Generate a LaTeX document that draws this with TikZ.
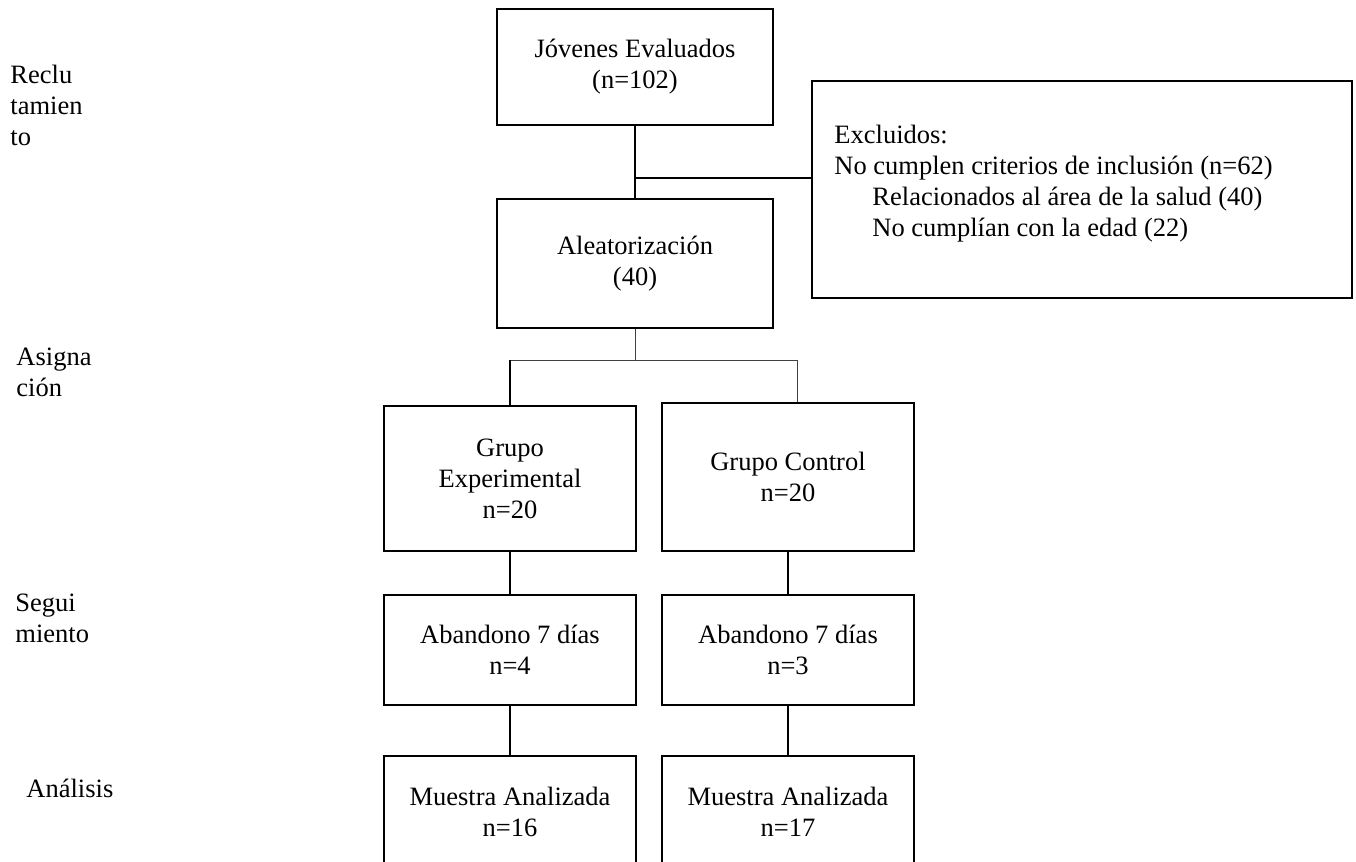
\documentclass[tikz,border=0pt]{standalone}
\usepackage{fontspec}
\setmainfont{Liberation Serif}
\usepackage{tikz}
\usetikzlibrary{positioning}
\newdimen\pxl
\pxl=0.4528pt

\begin{document}
\begin{tikzpicture}[
    x=\pxl, y=-\pxl,
    every node/.style={font=\fontsize{12}{14}\selectfont},
    stagebox/.style={draw, line width=0.75pt, align=center, inner sep=0pt, minimum width=252\pxl},
    phase/.style={anchor=north west, align=left, inner sep=0pt},
    link/.style={line width=0.75pt},
    thinlink/.style={line width=0.45pt, black!75}
]
    \useasboundingbox (0,0) rectangle (1356,861);
    \clip (0,0) rectangle (1356,861);

    % Reclutamiento
    \node[stagebox, minimum width=276\pxl, minimum height=116\pxl] (jovenes) at (635,67) {Jóvenes Evaluados\\(n=102)};
    \node[stagebox, minimum width=276\pxl, minimum height=129\pxl] (aleat) at (635,263.5) {Aleatorización\\(40)};
    \node[stagebox, minimum width=540\pxl, minimum height=217\pxl] (excl) at (1082,189.5) {};
    \node[phase] (excltxt) at (834,121.4) {\strut Excluidos:\\No cumplen criterios de inclusión (n=62)\\\hspace*{38\pxl}Relacionados al área de la salud (40)\\\hspace*{38\pxl}No cumplían con la edad (22)};

    \coordinate (branch) at (635,178);
    \draw[link] (jovenes) -- (aleat);
    \draw[link] (branch) -- (branch -| excl.west);

    % Asignacion
    \node[stagebox, minimum height=145\pxl] (exper) at (510,478.5) {Grupo\\Experimental\\n=20};
    \node[stagebox, minimum height=148\pxl] (control) at (788,477) {Grupo Control\\n=20};
    \coordinate (split) at (635,360);
    \coordinate (splitR) at (797,360);
    \draw[thinlink] (aleat) -- (split);
    \draw[thinlink] (split -| exper.north) -- (splitR) -- (splitR |- control.north);
    \draw[link] (split -| exper.north) -- (exper);

    % Seguimiento
    \node[stagebox, minimum height=110\pxl] (aband1) at (510,650) {Abandono 7 días\\n=4};
    \node[stagebox, minimum height=110\pxl] (aband2) at (788,650) {Abandono 7 días\\n=3};
    \draw[link] (exper) -- (aband1);
    \draw[link] (control) -- (aband2);

    % Analisis
    \node[stagebox, minimum height=112\pxl] (muest1) at (510,812) {Muestra Analizada\\n=16};
    \node[stagebox, minimum height=112\pxl] (muest2) at (788,812) {Muestra Analizada\\n=17};
    \draw[link] (aband1) -- (muest1);
    \draw[link] (aband2) -- (muest2);

    % Etapas
    \node[phase] (recl) at (10,61.4) {\strut Reclu\\tamien\\to};
    \node[phase] (asig) at (16,343.4) {\strut Asigna\\ción};
    \node[phase] (segu) at (15,589.4) {\strut Segui\\miento};
    \node[phase] (anal) at (26,775.4) {\strut Análisis};

\end{tikzpicture}
\end{document}
